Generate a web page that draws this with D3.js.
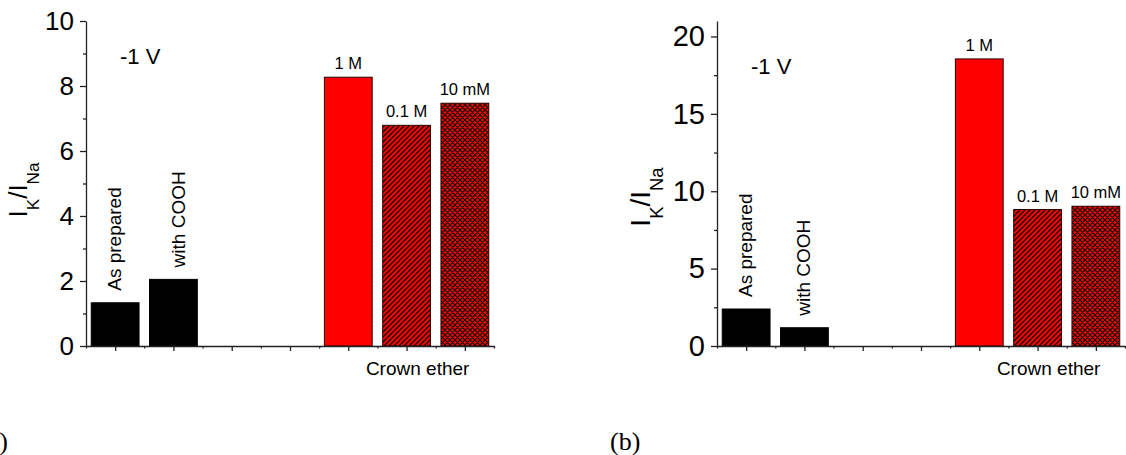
<!DOCTYPE html>
<html>
<head>
<meta charset="utf-8">
<script src="https://cdn.jsdelivr.net/npm/d3@7"></script>
<style>
  html, body { margin: 0; padding: 0; background: #fff; }
  svg { display: block; font-family: "Liberation Sans", Arial, sans-serif; }
</style>
</head>
<body>
<svg id="chart" width="1126" height="455"></svg>
<script>
// Sample categories along the x axis (two empty slots separate the groups)
const categories = ["As prepared", "with COOH", "", "", "1 M", "0.1 M", "10 mM"];
// Which categories get a vertical label vs a label on top of the bar
const verticalLabels = ["As prepared", "with COOH"];
const topLabels = ["1 M", "0.1 M", "10 mM"];
// Fill style per category
const fills = ["black", "black", null, null, "red", "hatch", "cross"];

// I_K / I_Na ratios, panel (a)
const ratiosA = [1.33, 2.05, null, null, 8.27, 6.79, 7.47];
// I_K / I_Na ratios, panel (b)
const ratiosB = [2.39, 1.18, null, null, 18.55, 8.82, 9.03];

// Y axis ticks
const yTicksA = [0, 2, 4, 6, 8, 10];
const yMinorA = [1, 3, 5, 7, 9];
const yTicksB = [0, 5, 10, 15, 20];
const yMinorB = [2.5, 7.5, 12.5, 17.5];

const groupLabel = "Crown ether";
const biasLabel = "-1 V";
const panelTags = ["(a)", "(b)"];

const svg = d3.select("#chart");
const defs = svg.append("defs");

// single diagonal hatch on red
const hatch = defs.append("pattern")
  .attr("id", "hatch").attr("patternUnits", "userSpaceOnUse")
  .attr("width", 5).attr("height", 5);
hatch.append("rect").attr("width", 5).attr("height", 5).attr("fill", "red");
hatch.append("path")
  .attr("d", "M0,5L5,0M-1,1L1,-1M4,6L6,4")
  .attr("stroke", "#111").attr("stroke-width", 1.4);

// cross hatch on red
const cross = defs.append("pattern")
  .attr("id", "cross").attr("patternUnits", "userSpaceOnUse")
  .attr("width", 5).attr("height", 5);
cross.append("rect").attr("width", 5).attr("height", 5).attr("fill", "red");
cross.append("path")
  .attr("d", "M0,5L5,0M-1,1L1,-1M4,6L6,4M0,0L5,5M-1,4L1,6M4,-1L6,1")
  .attr("stroke", "#111").attr("stroke-width", 1.2);

const fillFor = f => f === "hatch" ? "url(#hatch)" : f === "cross" ? "url(#cross)" : f;

const panels = [
  { values: ratiosA, ticks: yTicksA, minor: yMinorA, yMax: 10,
    left: 86, right: 494, top: 21, base: 346,
    tickFont: 26, titleFont: 26, titleX: 27, titleY: 190,
    biasY: 8.68, tagX: 8, tagAnchor: "end", coohShift: 12 },
  { values: ratiosB, ticks: yTicksB, minor: yMinorB, yMax: 21,
    left: 717, right: 1125, top: 21, base: 346,
    tickFont: 29, titleFont: 28, titleX: 650, titleY: 197,
    biasY: 17.6, tagX: 610, tagAnchor: "start", coohShift: 6 }
];

panels.forEach((p, pi) => {
  const g = svg.append("g");
  const x = d3.scaleLinear().domain([0, categories.length]).range([p.left, p.right]);
  const y = d3.scaleLinear().domain([0, p.yMax]).range([p.base, p.top]);
  const barW = 0.82;

  // bars
  const data = categories.map((c, i) => ({ c, i, v: p.values[i], f: fills[i] }))
    .filter(d => d.v != null);

  g.selectAll("rect.bar").data(data).enter().append("rect")
    .attr("class", "bar")
    .attr("x", d => x(d.i + 0.5 - barW / 2))
    .attr("width", d => x(barW) - x(0))
    .attr("y", d => y(d.v))
    .attr("height", d => y(0) - y(d.v))
    .attr("fill", d => fillFor(d.f))
    .attr("stroke", d => d.f === "black" ? "black" : "#2a0000")
    .attr("stroke-width", 1);

  // y axis
  const yAxis = d3.axisLeft(y).tickValues(p.ticks).tickSize(6).tickSizeOuter(0)
    .tickPadding(6).tickFormat(d3.format("d"));
  const ya = g.append("g").attr("transform", `translate(${p.left},0)`).call(yAxis);
  ya.select(".domain").attr("stroke", "#222").attr("stroke-width", 1.3);
  ya.selectAll(".tick line").attr("stroke", "#222").attr("stroke-width", 1.3);
  ya.selectAll(".tick text").attr("font-size", p.tickFont)
    .attr("font-family", "Liberation Sans, Arial, sans-serif").attr("fill", "#000");
  const ym = d3.axisLeft(y).tickValues(p.minor).tickSize(3).tickSizeOuter(0).tickFormat("");
  const ymg = g.append("g").attr("transform", `translate(${p.left},0)`).call(ym);
  ymg.select(".domain").remove();
  ymg.selectAll(".tick line").attr("stroke", "#222").attr("stroke-width", 1.3);

  // x axis: major ticks at category centres, minor ticks at boundaries
  const xMajor = d3.axisBottom(x).tickValues(d3.range(categories.length).map(i => i + 0.5))
    .tickSize(5).tickSizeOuter(0).tickFormat("");
  const xa = g.append("g").attr("transform", `translate(0,${p.base})`).call(xMajor);
  xa.select(".domain").attr("stroke", "#222").attr("stroke-width", 1.3);
  xa.selectAll(".tick line").attr("stroke", "#222").attr("stroke-width", 1.3);
  const xMinor = d3.axisBottom(x).tickValues(d3.range(categories.length + 1))
    .tickSize(2.5).tickSizeOuter(0).tickFormat("");
  const xm = g.append("g").attr("transform", `translate(0,${p.base})`).call(xMinor);
  xm.select(".domain").remove();
  xm.selectAll(".tick line").attr("stroke", "#222").attr("stroke-width", 1.3);

  // vertical labels above the black bars
  data.filter(d => verticalLabels.includes(d.c)).forEach(d => {
    const shift = d.i === 1 ? p.coohShift : 6;
    const cx = x(d.i + 0.5) + shift, cy = y(d.v) - 12;
    g.append("text")
      .attr("transform", `translate(${cx},${cy}) rotate(-90)`)
      .attr("text-anchor", "start")
      .attr("font-size", 19)
      .text(d.c);
  });

  // concentration labels on top of red bars
  data.filter(d => topLabels.includes(d.c)).forEach(d => {
    g.append("text")
      .attr("x", x(d.i + 0.5))
      .attr("y", y(d.v) - 8)
      .attr("text-anchor", "middle")
      .attr("font-size", 16.5)
      .text(d.c);
  });

  // group caption under the red bars
  g.append("text")
    .attr("x", x(5.69)).attr("y", p.base + 29)
    .attr("text-anchor", "middle").attr("font-size", 19)
    .text(groupLabel);

  // bias annotation
  g.append("text")
    .attr("x", p.left + 34).attr("y", y(p.biasY))
    .attr("font-size", 22)
    .text(biasLabel);

  // y title I_K / I_Na
  const t = g.append("text")
    .attr("transform", `translate(${p.titleX},${p.titleY}) rotate(-90)`)
    .attr("text-anchor", "middle")
    .attr("font-size", p.titleFont);
  const sub = p.titleFont * 0.66;
  t.append("tspan").text("I");
  t.append("tspan").attr("font-size", sub).attr("dy", p.titleFont * 0.48).text("K");
  t.append("tspan").attr("dy", -p.titleFont * 0.48).text("/I");
  t.append("tspan").attr("font-size", sub).attr("dy", p.titleFont * 0.48).text("Na");

  // panel tag
  svg.append("text")
    .attr("x", p.tagX).attr("y", 450)
    .attr("text-anchor", p.tagAnchor)
    .attr("font-family", "Liberation Serif, Times New Roman, serif")
    .attr("font-size", 26)
    .text(panelTags[pi]);
});
</script>
</body>
</html>
